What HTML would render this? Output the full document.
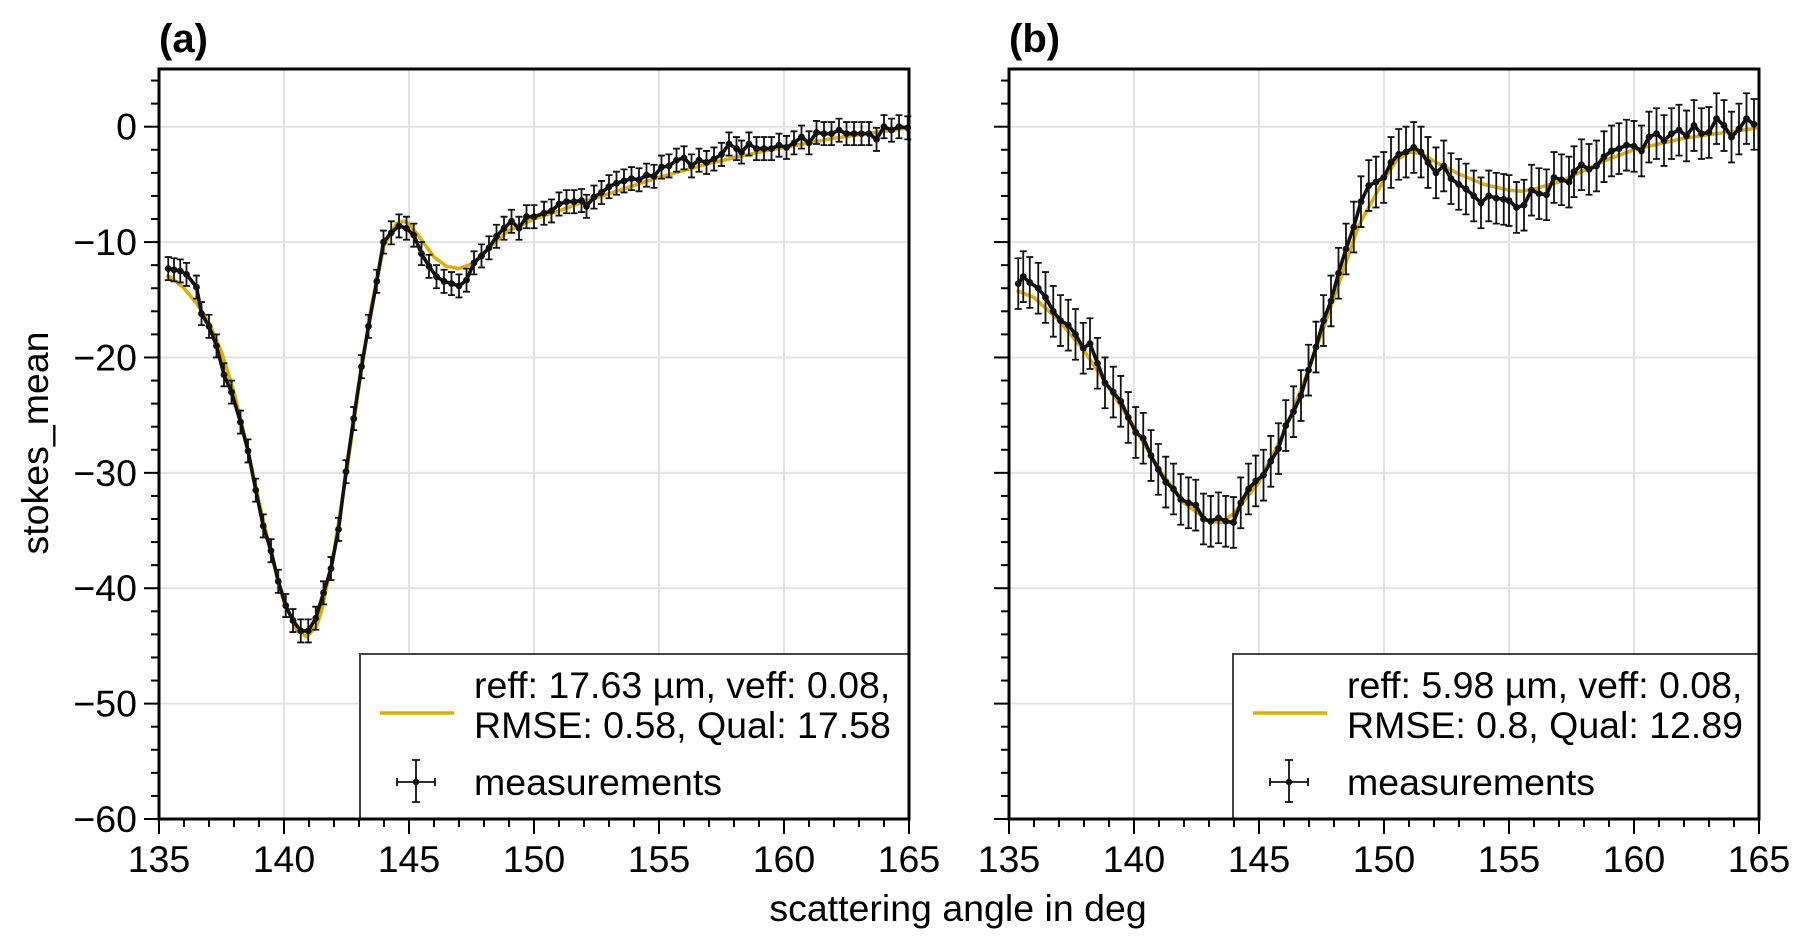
<!DOCTYPE html>
<html><head><meta charset="utf-8"><style>
html,body{margin:0;padding:0;background:#fff;}
svg{display:block;font-family:"Liberation Sans",Arial,sans-serif;}
</style></head><body>
<svg id="fig" width="1806" height="948" viewBox="0 0 1806 948" xmlns="http://www.w3.org/2000/svg">
<text x="958" y="921" font-size="37.5" text-anchor="middle">scattering angle in deg</text>
<text transform="translate(48,443) rotate(-90)" font-size="37.5" text-anchor="middle">stokes_mean</text>
</svg>
<script>
// Panel (a) data
const measAngleA=[135.37,135.6,135.85,136.1,136.5,136.7,137.0,137.3,137.6,137.9,138.26,138.56,138.87,139.17,139.48,139.77,140.07,140.36,140.67,140.97,141.27,141.58,141.88,142.18,142.48,142.79,143.1,143.38,143.71,143.98,144.29,144.6,144.9,145.19,145.5,145.8,146.1,146.4,146.7,147.0,147.3,147.6,147.9,148.2,148.5,148.8,149.1,149.4,149.7,150.0,150.4,150.7,151.0,151.3,151.6,151.9,152.1,152.4,152.7,153.0,153.3,153.6,153.9,154.2,154.5,154.8,155.1,155.4,155.7,156.0,156.3,156.6,156.9,157.2,157.5,157.8,158.1,158.3,158.6,158.9,159.2,159.5,159.8,160.1,160.4,160.7,161.0,161.3,161.6,161.9,162.2,162.5,162.8,163.1,163.4,163.7,164.0,164.3,164.6,164.95];
const measValueA=[-12.3,-12.4,-12.5,-12.8,-13.9,-16.2,-17.3,-19.0,-21.5,-23.0,-25.6,-28.1,-31.5,-34.6,-36.75,-39.4,-41.5,-42.8,-43.7,-43.7,-42.6,-40.4,-38.3,-34.9,-29.9,-25.3,-20.8,-17.3,-13.4,-10.0,-9.2,-8.6,-8.8,-9.4,-11.0,-12.1,-13.0,-13.4,-13.6,-13.8,-13.3,-11.8,-11.2,-10.5,-9.5,-8.8,-8.2,-8.8,-7.8,-7.8,-7.5,-7.3,-6.7,-6.5,-6.5,-6.4,-6.9,-6.1,-5.7,-5.2,-4.9,-4.7,-4.5,-4.6,-4.2,-4.3,-3.5,-3.4,-2.9,-2.7,-3.4,-2.9,-3.1,-2.8,-2.4,-1.5,-1.9,-2.2,-1.5,-1.9,-1.9,-1.9,-1.6,-1.8,-1.4,-0.9,-1.4,-0.5,-0.6,-0.6,-0.3,-0.6,-0.6,-0.6,-0.6,-1.1,0.0,-0.3,0.0,-0.1];
const fitAngleA=[135.3,135.5,136,136.5,137,137.5,138,138.5,139,139.5,140,140.5,140.9,141.3,141.5,142,142.5,143,143.5,144,144.5,144.8,145,145.5,146,146.5,147,147.5,148,148.5,149,149.5,150,151,152,153,154,155,156,157,158,159,160,161,162,163,164,165];
const fitValueA=[-12.9,-13.1,-14.0,-15.3,-17.0,-19.5,-23.0,-27.5,-32.5,-37.2,-41.2,-43.6,-44.2,-43.3,-42.0,-36.8,-30.0,-22.5,-15.5,-10.3,-8.4,-8.2,-8.4,-9.8,-11.3,-12.1,-12.3,-11.9,-10.9,-9.9,-9.0,-8.5,-8.0,-7.3,-6.5,-5.8,-5.1,-4.4,-3.8,-3.2,-2.7,-2.2,-1.8,-1.4,-1.0,-0.7,-0.4,-0.1];
// Panel (b) data
const measAngleB=[135.37,135.57,135.83,136.17,136.46,136.77,137.06,137.37,137.66,137.97,138.24,138.54,138.84,139.17,139.47,139.77,140.07,140.37,140.68,140.97,141.27,141.58,141.87,142.18,142.47,142.78,143.07,143.38,143.67,143.98,144.27,144.58,144.87,145.18,145.47,145.78,146.07,146.38,146.68,146.98,147.28,147.58,147.88,148.18,148.48,148.79,149.08,149.39,149.68,149.99,150.28,150.59,150.88,151.19,151.48,151.76,152.08,152.39,152.68,152.99,153.28,153.59,153.88,154.19,154.49,154.79,155.0,155.3,155.6,155.9,156.2,156.5,156.8,157.1,157.4,157.6,157.9,158.2,158.5,158.8,159.1,159.4,159.7,160.0,160.3,160.6,160.9,161.2,161.5,161.8,162.1,162.4,162.7,163.0,163.3,163.6,163.9,164.2,164.5,164.8];
const measValueB=[-13.6,-13.0,-13.5,-14.0,-14.8,-16.0,-16.8,-17.2,-18.0,-19.2,-18.8,-20.5,-22.2,-23.0,-23.8,-25.2,-26.5,-27.0,-28.5,-29.7,-30.8,-31.4,-32.3,-32.6,-32.8,-34.0,-34.2,-33.9,-34.2,-34.3,-32.6,-31.4,-30.7,-30.2,-29.0,-27.9,-25.9,-24.7,-23.3,-21.1,-19.1,-16.8,-15.1,-12.7,-10.6,-8.7,-6.5,-5.1,-4.8,-4.4,-3.1,-2.4,-2.2,-1.8,-2.2,-3.1,-4.0,-3.4,-4.5,-5.0,-5.4,-6.0,-6.6,-6.0,-6.2,-6.3,-6.4,-7.0,-6.8,-5.5,-5.8,-5.9,-4.4,-4.6,-4.8,-3.9,-3.3,-3.7,-3.4,-2.6,-2.1,-1.9,-1.6,-1.7,-2.1,-0.9,-0.6,-1.2,-0.6,-0.3,-0.8,0.1,-0.6,-0.5,0.7,0.1,-0.9,-0.2,0.7,0.2];
const fitAngleB=[135.3,136,137,138,139,140,141,142,143,143.5,144,145,146,147,148,149,150,150.5,151,151.5,152,153,154,155,155.5,156,157,158,159,160,161,162,163,164,165];
const fitValueB=[-14.2,-14.8,-16.8,-19.4,-22.6,-26.0,-29.7,-32.6,-34.2,-34.3,-33.5,-30.8,-26.5,-21.0,-14.8,-8.5,-4.6,-2.9,-2.2,-2.3,-3.0,-4.1,-5.0,-5.5,-5.6,-5.4,-4.8,-3.8,-2.8,-2.0,-1.5,-1.0,-0.7,-0.4,-0.1];
const xTicks=[135,140,145,150,155,160,165];
const yTicks=[0,-10,-20,-30,-40,-50,-60];
const errA=1.0, errB=2.2;

const NS="http://www.w3.org/2000/svg";
const svg=document.getElementById('fig');
const GOLD="#dcb000";
function mk(tag,attrs,parent){const e=document.createElementNS(NS,tag);for(const k in attrs)e.setAttribute(k,attrs[k]);(parent||svg).appendChild(e);return e;}

function panel(left,label,mA,mV,fA,fV,err,leg1,leg2,showY,legOff){
  const top=69,bottom=819,right=left+750;
  const xs=a=>left+(a-135)/30*(right-left);
  const ys=v=>top+(5-v)/65*(bottom-top);
  const g=mk('g',{});
  
  
  xTicks.forEach(t=>{const l=mk('line',{x1:xs(t),x2:xs(t),y1:top,y2:bottom,stroke:'#e3e3e3','stroke-width':2},g);
    });
  yTicks.forEach(t=>{const l=mk('line',{x1:left,x2:right,y1:ys(t),y2:ys(t),stroke:'#e3e3e3','stroke-width':2},g);
    });
  let d='';fA.forEach((a,i)=>{d+=(i?'L':'M')+xs(a).toFixed(1)+' '+ys(fV[i]).toFixed(1);});
  const fit=mk('path',{d:d,fill:'none',stroke:GOLD,'stroke-width':3.5,'stroke-linejoin':'round'},g);
  
  
  mA.forEach((a,i)=>{const x=xs(a),y1=ys(mV[i]+err),y2=ys(mV[i]-err);
    const e=mk('path',{d:`M${x} ${y1}V${y2}M${x-3.5} ${y1}H${x+3.5}M${x-3.5} ${y2}H${x+3.5}`,stroke:'#111','stroke-width':1.8,fill:'none'},g);
    
    });
  let d2='';mA.forEach((a,i)=>{d2+=(i?'L':'M')+xs(a).toFixed(1)+' '+ys(mV[i]).toFixed(1);});
  const ml=mk('path',{d:d2,fill:'none',stroke:'#111','stroke-width':3.6,'stroke-linejoin':'round'},g);
  
  
  mA.forEach((a,i)=>{const c=mk('circle',{cx:xs(a),cy:ys(mV[i]),r:3.4,fill:'#111'},g);
    
    });
  const L=left+legOff;
  const lg=mk('g',{},g);
  
  
  mk('rect',{x:L,y:654,width:right-L,height:165,fill:'#fff',stroke:'#444','stroke-width':2},lg);
  const ll=mk('line',{x1:L+20,x2:L+94,y1:713,y2:713,stroke:GOLD,'stroke-width':3.5},lg);
  
  
  const t1=mk('text',{x:L+114,y:698,'font-size':37.5},lg);t1.textContent=leg1;
  
  
  const t2=mk('text',{x:L+114,y:738,'font-size':37.5},lg);t2.textContent=leg2;
  
  
  const mx=L+56,my=782;
  const mm=mk('path',{d:`M${mx} ${my-22}V${my+20}M${mx-4} ${my-22}H${mx+4}M${mx-4} ${my+20}H${mx+4}M${mx-19} ${my}H${mx+19}M${mx-19} ${my-4}V${my+4}M${mx+19} ${my-4}V${my+4}`,stroke:'#111','stroke-width':1.8,fill:'none'},lg);
  
  
  mk('circle',{cx:mx,cy:my,r:3.2,fill:'#111'},lg);
  const t3=mk('text',{x:L+114,y:795,'font-size':37.5},lg);t3.textContent='measurements';
  
  
  const sp=mk('rect',{x:left,y:top,width:right-left,height:bottom-top,fill:'none',stroke:'#000','stroke-width':3},g);
  
  
  for(let a=135;a<=165;a++){const maj=a%5===0;mk('line',{x1:xs(a),x2:xs(a),y1:bottom,y2:bottom+(maj?15:8),stroke:'#000','stroke-width':2},g);}
  xTicks.forEach(t=>{const tx=mk('text',{x:xs(t),y:872,'font-size':37.5,'text-anchor':'middle'},g);tx.textContent=t;
    });
  for(let v=4;v>=-60;v-=2){const maj=v%10===0;mk('line',{x1:left,x2:left-(maj?15:8),y1:ys(v),y2:ys(v),stroke:'#000','stroke-width':2},g);}
  if(showY) yTicks.forEach(t=>{const ty=mk('text',{x:left-22,y:ys(t)+13,'font-size':37.5,'text-anchor':'end'},g);ty.textContent=(t<0?'\u2212'+(-t):t);
    });
  const ti=mk('text',{x:left,y:52,'font-size':40,'font-weight':'bold'},g);ti.textContent='('+label+')';
  
  
}
panel(159,'a',measAngleA,measValueA,fitAngleA,fitValueA,errA,'reff: 17.63 \u00b5m, veff: 0.08,','RMSE: 0.58, Qual: 17.58',true,201);
panel(1009,'b',measAngleB,measValueB,fitAngleB,fitValueB,errB,'reff: 5.98 \u00b5m, veff: 0.08,','RMSE: 0.8, Qual: 12.89',false,224);
</script>
</body></html>
